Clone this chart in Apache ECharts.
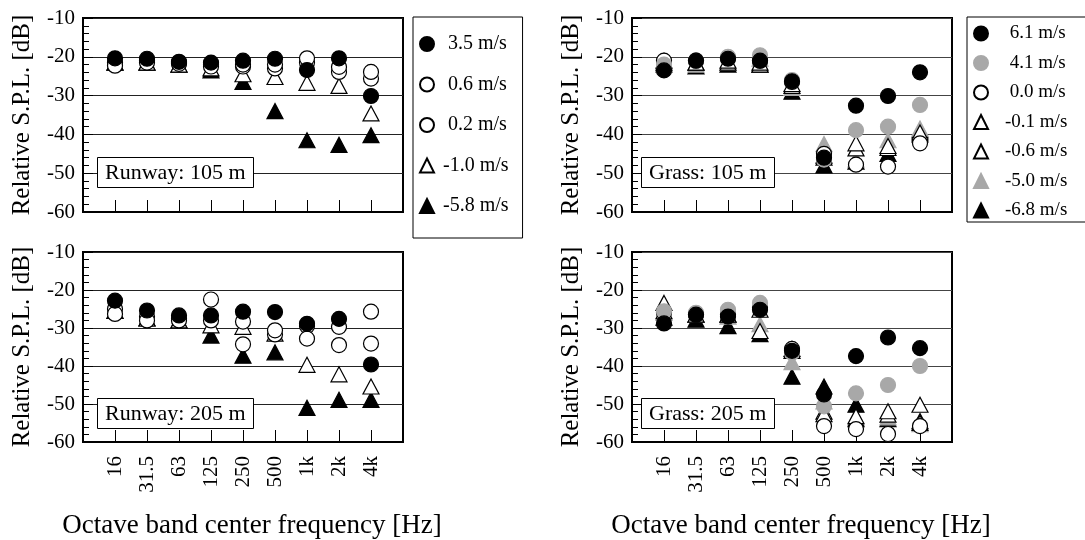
<!DOCTYPE html>
<html>
<head>
<meta charset="utf-8">
<script src="https://cdn.jsdelivr.net/npm/echarts@6/dist/echarts.min.js"></script>
<style>
  html, body { margin: 0; background: #fff; }
  #main { width: 1085px; height: 540px; }
</style>
</head>
<body>
<div id="main"></div>
<script>
// octave band centres
var freqLabels = ['16', '31.5', '63', '125', '250', '500', '1k', '2k', '4k'];

// Runway, 105 m
var rw105_p35 = [-20.4, -20.5, -21.3, -21.5, -21, -20.5, -23.4, -20.4, -30.1];
var rw105_p06 = [-22.3, -21.5, -21.8, -22.5, -22, -22, -20.4, -22.6, -23.9];
var rw105_p02 = [-21.5, -21, -21.5, -22, -22.5, -23, -21.5, -23.9, -25.6];
var rw105_m10 = [-21.5, -21.5, -22, -23, -24.5, -25.2, -26.7, -27.5, -34.6];
var rw105_m58 = [-21.5, -21.5, -22, -23.5, -26.5, -34, -41.5, -42.7, -40.2];

// Runway, 205 m
var rw205_p35 = [-22.8, -25.4, -26.7, -26.7, -25.7, -25.8, -28.9, -27.6, -39.6];
var rw205_p06 = [-26.3, -28, -28, -22.5, -28.3, -30.6, -32.8, -29.7, -25.7];
var rw205_p02 = [-25, -27, -27.5, -28, -34.3, -31.7, -29.5, -34.5, -34.1];
var rw205_m10 = [-25.5, -27.5, -28, -29.3, -29.7, -31.5, -39.7, -42.2, -45.4];
var rw205_m58 = [-25.5, -27.5, -28, -32, -37.3, -36.4, -51, -48.9, -48.9];

// Grass, 105 m
var gr105_p61 = [-23.5, -21, -20.5, -21, -26.3, -46, -32.6, -30.1, -24];
var gr105_p41 = [-22, -21, -20, -19.6, -26, -46.5, -38.9, -38, -32.4];
var gr105_p00 = [-21, -21, -20.3, -21, -26.5, -45, -47.8, -48.3, -42.3];
var gr105_m01 = [-21, -21.5, -21, -21.5, -27, -45.5, -42.3, -43, -39.5];
var gr105_m06 = [-21.5, -21.5, -21.5, -22, -27.5, -46, -43.6, -43.5, -40];
var gr105_m50 = [-22, -22, -21.5, -20.5, -28, -42.5, -46.5, -41.5, -38.5];
var gr105_m68 = [-22, -22.5, -22, -22, -29, -48, -47, -45, -39];

// Grass, 205 m
var gr205_p61 = [-28.8, -26.5, -27, -25.2, -36, -47.5, -37.4, -32.5, -35.3];
var gr205_p41 = [-25.6, -26, -25.2, -23.4, -36.5, -50.6, -47.2, -45, -40];
var gr205_p00 = [-26, -26.5, -26.5, -24.7, -35.5, -55.8, -56.6, -57.9, -55.8];
var gr205_m01 = [-23.4, -26.5, -26.5, -25.2, -35.5, -52.7, -53.2, -51.9, -50.2];
var gr205_m06 = [-25.6, -26.5, -26.5, -30.8, -36, -52, -54, -52.8, -55];
var gr205_m50 = [-26, -26.5, -27, -29, -39, -49.3, -53.6, -53.5, -55.3];
var gr205_m68 = [-27.3, -27.8, -29.5, -31.6, -42.8, -45.4, -50.2, -54, -54.5];

var FONT = "'Liberation Serif', 'Times New Roman', serif";
var GRAY = '#a8a8a8';

function pts(arr) {
  return arr.map(function (v, i) { return [i + 1, v]; });
}

// one scatter series on panel idx
function sc(name, arr, shape, fill, stroke, idx) {
  return {
    type: 'scatter',
    name: name,
    xAxisIndex: idx,
    yAxisIndex: idx,
    symbol: shape,
    symbolSize: shape === 'triangle' ? [16, 15] : 15,
    itemStyle: { color: fill, borderColor: stroke, borderWidth: 1.2, opacity: 1 },
    emphasis: { disabled: true },
    data: pts(arr)
  };
}

function xAx(idx, showLabels) {
  return {
    type: 'value', gridIndex: idx, min: 0, max: 10, interval: 1,
    name: showLabels ? 'Octave band center frequency [Hz]' : '',
    nameLocation: 'middle', nameGap: 70,
    nameTextStyle: { fontFamily: FONT, fontSize: 27, color: '#000', padding: [0, 0, 0, 18] },
    axisLine: { show: true, lineStyle: { color: '#000', width: 2 } },
    axisTick: { show: true, inside: true, length: 12, lineStyle: { color: '#000', width: 1 } },
    axisLabel: {
      show: showLabels, rotate: 90, margin: 14,
      fontFamily: FONT, fontSize: 21, color: '#000',
      formatter: function (v) { return freqLabels[v - 1] || ''; }
    },
    splitLine: { show: false }
  };
}

function yAx(idx, gridColor) {
  return {
    type: 'value', gridIndex: idx, min: -60, max: -10, interval: 10,
    name: 'Relative S.P.L. [dB]', nameLocation: 'middle', nameGap: 48,
    nameTextStyle: { fontFamily: FONT, fontSize: 25, color: '#000' },
    axisLine: { show: true, lineStyle: { color: '#000', width: 2 } },
    axisTick: { show: true, inside: true, length: 10, lineStyle: { color: '#000' } },
    minorTick: { show: true, splitNumber: 5, length: 6, lineStyle: { color: '#000' } },
    axisLabel: { margin: 8, fontFamily: FONT, fontSize: 21, color: '#000' },
    splitLine: { show: true, lineStyle: { color: gridColor, width: 1 } }
  };
}

function box(text, left, top) {
  return {
    text: text, left: left, top: top,
    padding: [5, 8, 4, 8],
    borderWidth: 1, borderColor: '#000', backgroundColor: '#fff',
    textStyle: { fontFamily: FONT, fontSize: 22, fontWeight: 'normal', color: '#000' }
  };
}

var legendPad = function (n) { return n.charAt(0) === '-' ? n : ' ' + n; };

var option = {
  animation: false,
  backgroundColor: '#fff',
  title: [
    box('Runway: 105 m', 97, 157),
    box('Grass: 105 m', 641, 157),
    box('Runway: 205 m', 97, 398),
    box('Grass: 205 m', 641, 398)
  ],
  grid: [
    { left: 83, top: 18, width: 320, height: 194, show: true, borderColor: '#000', borderWidth: 2 },
    { left: 632, top: 18, width: 320, height: 194, show: true, borderColor: '#000', borderWidth: 2 },
    { left: 83, top: 252, width: 320, height: 192, show: true, borderColor: '#000', borderWidth: 2 },
    { left: 632, top: 252, width: 320, height: 192, show: true, borderColor: '#000', borderWidth: 2 }
  ],
  xAxis: [xAx(0, false), xAx(1, false), xAx(2, true), xAx(3, true)],
  yAxis: [yAx(0, '#222'), yAx(1, '#444'), yAx(2, '#222'), yAx(3, '#444')],
  legend: [
    {
      data: ['3.5 m/s', '0.6 m/s', '0.2 m/s', '-1.0 m/s', '-5.8 m/s'],
      orient: 'vertical', left: 413, top: 17,
      padding: [17, 14, 22, 6], itemGap: 20.5,
      itemWidth: 14, itemHeight: 14,
      borderColor: '#000', borderWidth: 1, backgroundColor: '#fff',
      selectedMode: false, formatter: legendPad,
      textStyle: { fontFamily: FONT, fontSize: 20, lineHeight: 18, color: '#000', padding: [0, 0, 0, 4] }
    },
    {
      data: ['6.1 m/s', '4.1 m/s', '0.0 m/s', '-0.1 m/s', '-0.6 m/s', '-5.0 m/s', '-6.8 m/s'],
      orient: 'vertical', left: 967, top: 17,
      padding: [7, 30, 2, 6], itemGap: 10.5,
      itemWidth: 14, itemHeight: 14,
      borderColor: '#000', borderWidth: 1, backgroundColor: '#fff',
      selectedMode: false, formatter: legendPad,
      textStyle: { fontFamily: FONT, fontSize: 19, lineHeight: 18, color: '#000', padding: [0, 0, 0, 12] }
    }
  ],
  series: [
    // runway 105 m
    sc('-5.8 m/s', rw105_m58, 'triangle', '#000', '#000', 0),
    sc('-1.0 m/s', rw105_m10, 'triangle', '#fff', '#000', 0),
    sc('0.2 m/s', rw105_p02, 'circle', '#fff', '#000', 0),
    sc('0.6 m/s', rw105_p06, 'circle', '#fff', '#000', 0),
    sc('3.5 m/s', rw105_p35, 'circle', '#000', '#000', 0),
    // grass 105 m
    sc('-6.8 m/s', gr105_m68, 'triangle', '#000', '#000', 1),
    sc('-5.0 m/s', gr105_m50, 'triangle', GRAY, GRAY, 1),
    sc('-0.6 m/s', gr105_m06, 'triangle', '#fff', '#000', 1),
    sc('-0.1 m/s', gr105_m01, 'triangle', '#fff', '#000', 1),
    sc('0.0 m/s', gr105_p00, 'circle', '#fff', '#000', 1),
    sc('4.1 m/s', gr105_p41, 'circle', GRAY, GRAY, 1),
    sc('6.1 m/s', gr105_p61, 'circle', '#000', '#000', 1),
    // runway 205 m
    sc('-5.8 m/s', rw205_m58, 'triangle', '#000', '#000', 2),
    sc('-1.0 m/s', rw205_m10, 'triangle', '#fff', '#000', 2),
    sc('0.2 m/s', rw205_p02, 'circle', '#fff', '#000', 2),
    sc('0.6 m/s', rw205_p06, 'circle', '#fff', '#000', 2),
    sc('3.5 m/s', rw205_p35, 'circle', '#000', '#000', 2),
    // grass 205 m
    sc('-6.8 m/s', gr205_m68, 'triangle', '#000', '#000', 3),
    sc('-5.0 m/s', gr205_m50, 'triangle', GRAY, GRAY, 3),
    sc('-0.6 m/s', gr205_m06, 'triangle', '#fff', '#000', 3),
    sc('-0.1 m/s', gr205_m01, 'triangle', '#fff', '#000', 3),
    sc('0.0 m/s', gr205_p00, 'circle', '#fff', '#000', 3),
    sc('4.1 m/s', gr205_p41, 'circle', GRAY, GRAY, 3),
    sc('6.1 m/s', gr205_p61, 'circle', '#000', '#000', 3)
  ]
};

var chart = echarts.init(document.getElementById('main'));
chart.setOption(option);
</script>
</body>
</html>
